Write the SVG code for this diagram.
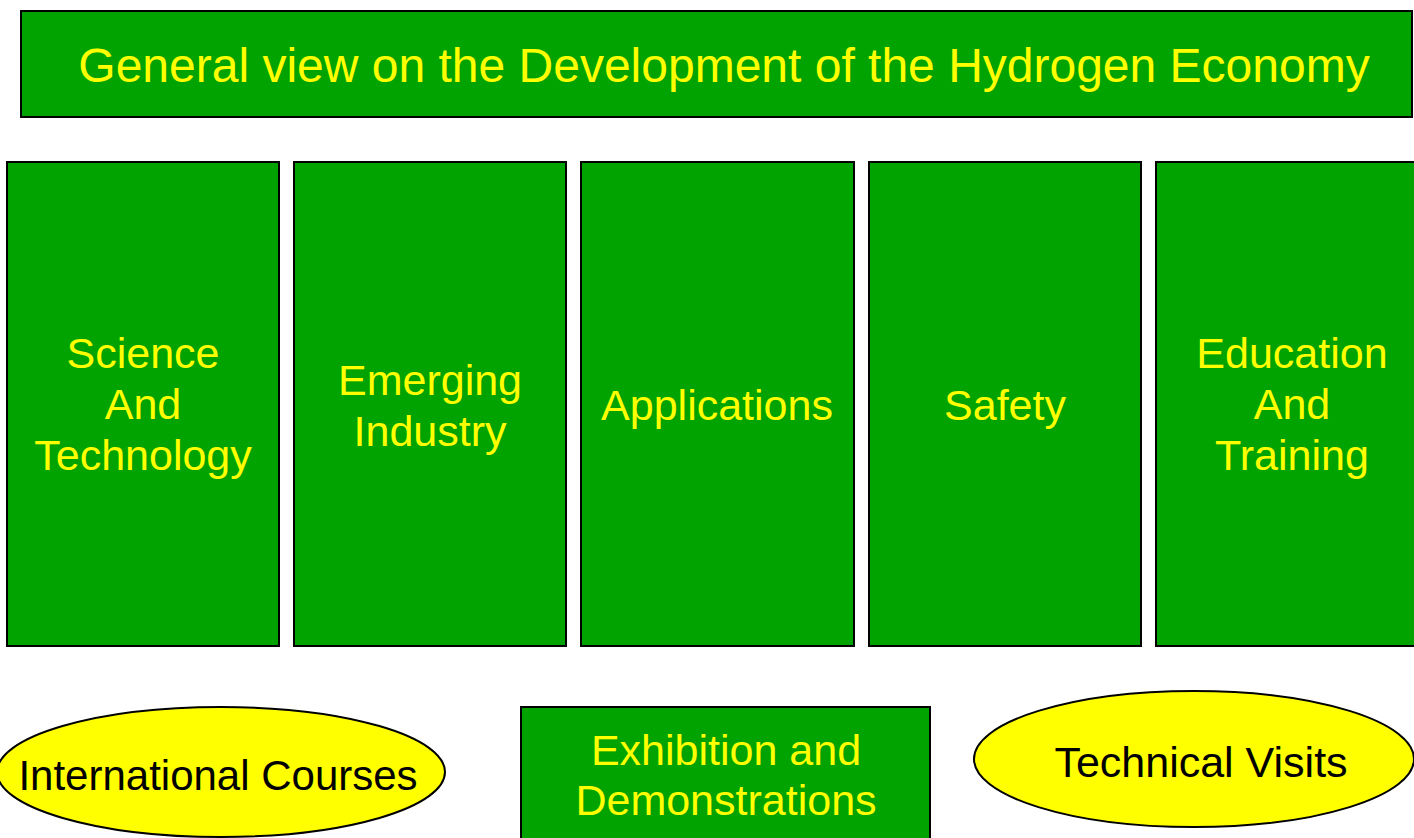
<svg xmlns="http://www.w3.org/2000/svg" width="1414" height="838" viewBox="0 0 1414 838">
<style>
.box{fill:#00A300;stroke:#000;stroke-width:2}
.oval{fill:#FFFF00;stroke:#000;stroke-width:2}
.yt{fill:#FFFF00;font-family:"Liberation Sans",Arial,sans-serif;text-anchor:middle}
.bt{fill:#000;font-family:"Liberation Sans",Arial,sans-serif;text-anchor:middle}
</style>
<rect width="1414" height="838" fill="#fff"/>
<g id="title">
<rect class="box" x="21" y="11" width="1391" height="106"/>
<text class="yt" x="724" y="82" font-size="48">General view on the Development of the Hydrogen Economy</text>
</g>
<g id="science">
<rect class="box" x="7" y="162" width="272" height="484"/>
<text class="yt" font-size="43"><tspan x="143" y="368">Science</tspan><tspan x="143" y="419">And</tspan><tspan x="143" y="470">Technology</tspan></text>
</g>
<g id="emerging">
<rect class="box" x="294" y="162" width="272" height="484"/>
<text class="yt" font-size="43"><tspan x="430" y="395">Emerging</tspan><tspan x="430" y="446">Industry</tspan></text>
</g>
<g id="applications">
<rect class="box" x="581" y="162" width="273" height="484"/>
<text class="yt" font-size="43" x="717" y="420">Applications</text>
</g>
<g id="safety">
<rect class="box" x="869" y="162" width="272" height="484"/>
<text class="yt" font-size="43" x="1005" y="420">Safety</text>
</g>
<g id="education">
<rect class="box" x="1156" y="162" width="272" height="484"/>
<text class="yt" font-size="43"><tspan x="1292" y="368">Education</tspan><tspan x="1292" y="419">And</tspan><tspan x="1292" y="470">Training</tspan></text>
</g>
<g id="courses">
<ellipse class="oval" cx="221" cy="772" rx="224" ry="65"/>
<text class="bt" font-size="42" x="218" y="790">International Courses</text>
</g>
<g id="exhibition">
<rect class="box" x="521" y="707" width="409" height="140"/>
<text class="yt" font-size="43"><tspan x="726" y="765">Exhibition and</tspan><tspan x="726" y="815">Demonstrations</tspan></text>
</g>
<g id="visits">
<ellipse class="oval" cx="1194" cy="759" rx="220" ry="68"/>
<text class="bt" font-size="43" x="1201" y="777">Technical Visits</text>
</g>
<g id="connectors"></g>
</svg>
